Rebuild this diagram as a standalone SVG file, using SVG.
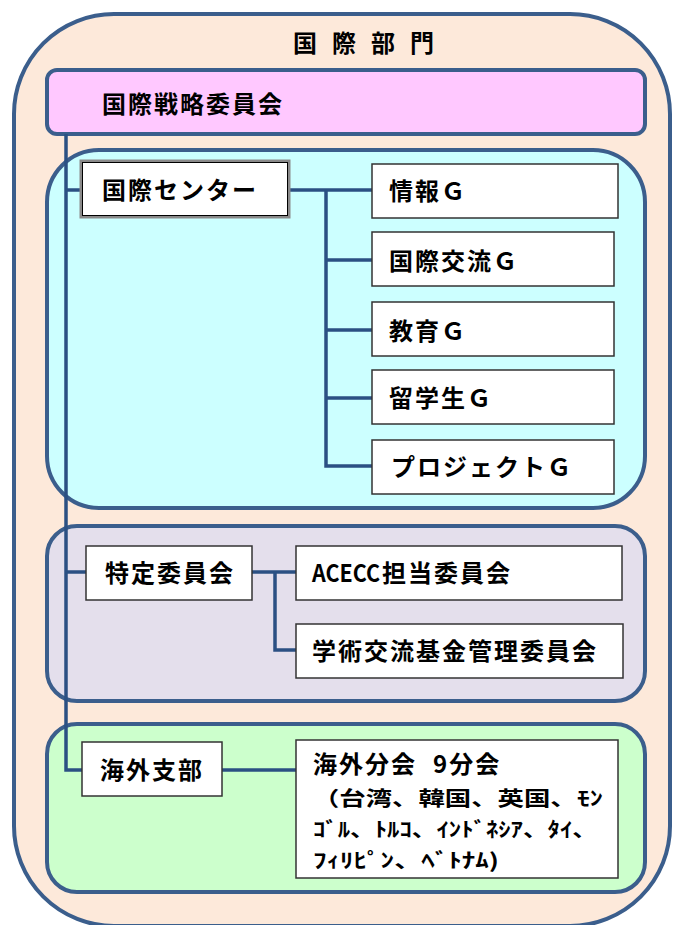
<svg xmlns="http://www.w3.org/2000/svg" width="675" height="925" viewBox="0 0 675 925">
<style>
.grp{stroke:#3B5E8C;stroke-width:4}
.box{fill:#fff;stroke:#333;stroke-width:1.5}
.t{font-family:"Noto Sans CJK JP","Noto Sans CJK SC",sans-serif;font-weight:bold;font-size:24px;letter-spacing:2px;fill:#000}
.k{font-family:"Noto Sans CJK JP","Noto Sans CJK SC",sans-serif;font-weight:bold;font-size:24px;fill:#000}
.s{font-family:"Noto Sans CJK JP","Noto Sans CJK SC",sans-serif;font-weight:bold;font-size:20px;fill:#000}
.c{stroke:#2B5083;stroke-width:3.5;fill:none}
</style>
<g id="outer">
<rect x="14" y="14" width="656" height="912" rx="100" ry="100" fill="#FDE9DA" class="grp"/>
<text class="k" x="293 332 371 410" y="52">国際部門</text>
</g>
<g id="strategy">
<rect x="47" y="70" width="598" height="64" rx="10" ry="10" fill="#FFC8FF" class="grp"/>
<text class="t" x="102" y="113">国際戦略委員会</text>
</g>
<g id="center-area">
<rect x="47" y="150" width="598" height="358" rx="52" ry="52" fill="#CCFFFF" class="grp"/>
</g>
<g id="special-area">
<rect x="47" y="526" width="598" height="175" rx="30" ry="30" fill="#E4DFEC" class="grp"/>
</g>
<g id="overseas-area">
<rect x="47" y="724" width="598" height="168" rx="30" ry="30" fill="#CCFFCC" class="grp"/>
</g>
<g id="connectors">
<path class="c" d="M66,134 V770 H82"/>
<path class="c" d="M66,190 H81"/>
<path class="c" d="M289,190 H372"/>
<path class="c" d="M326,190 V466 H372"/>
<path class="c" d="M326,260 H372 M326,330 H372 M326,398 H372"/>
<path class="c" d="M66,572 H86"/>
<path class="c" d="M252,572 H296"/>
<path class="c" d="M275,572 V650 H296"/>
<path class="c" d="M222,770 H296"/>
</g>
<g id="intl-center">
<rect x="81" y="161" width="208" height="56" fill="#fff" stroke="#8a8a8a" stroke-width="3"/>
<rect x="82.5" y="162.5" width="205" height="53" fill="none" stroke="#000" stroke-width="1"/>
<text class="t" x="102" y="199">国際センター</text>
</g>
<g id="info-g">
<rect class="box" x="372" y="164" width="246" height="54"/>
<text class="t" x="389" y="200">情報Ｇ</text>
</g>
<g id="exchange-g">
<rect class="box" x="372" y="232" width="242" height="54"/>
<text class="t" x="389" y="270">国際交流Ｇ</text>
</g>
<g id="education-g">
<rect class="box" x="372" y="302" width="242" height="54"/>
<text class="t" x="389" y="340">教育Ｇ</text>
</g>
<g id="student-g">
<rect class="box" x="372" y="370" width="242" height="54"/>
<text class="t" x="389" y="407">留学生Ｇ</text>
</g>
<g id="project-g">
<rect class="box" x="372" y="440" width="242" height="54"/>
<text class="t" x="391" y="476">プロジェクトＧ</text>
</g>
<g id="special-committee">
<rect class="box" x="86" y="546" width="166" height="54"/>
<text class="t" x="105" y="582">特定委員会</text>
</g>
<g id="acecc">
<rect class="box" x="296" y="546" width="326" height="54"/>
<text class="t" x="312" y="582"><tspan textLength="68" lengthAdjust="spacingAndGlyphs" letter-spacing="0">ACECC</tspan><tspan x="382">担当委員会</tspan></text>
</g>
<g id="fund">
<rect class="box" x="296" y="624" width="327" height="54"/>
<text class="t" x="312" y="660">学術交流基金管理委員会</text>
</g>
<g id="overseas">
<rect class="box" x="82" y="742" width="140" height="54"/>
<text class="t" x="100" y="779">海外支部</text>
</g>
<g id="branches">
<rect class="box" x="296" y="740" width="322" height="138"/>
<text class="t" x="313" y="773">海外分会<tspan x="433">9分会</tspan></text>
<text class="s" x="313" y="806" textLength="290" lengthAdjust="spacingAndGlyphs">（台湾、韓国、英国、ﾓﾝ</text>
<text class="s" x="313" y="837" textLength="284" lengthAdjust="spacingAndGlyphs">ｺﾞﾙ、ﾄﾙｺ、ｲﾝﾄﾞﾈｼｱ、ﾀｲ、</text>
<text class="s" x="313" y="868" textLength="186" lengthAdjust="spacingAndGlyphs">ﾌｨﾘﾋﾟﾝ、ﾍﾞﾄﾅﾑ)</text>
</g>
</svg>
